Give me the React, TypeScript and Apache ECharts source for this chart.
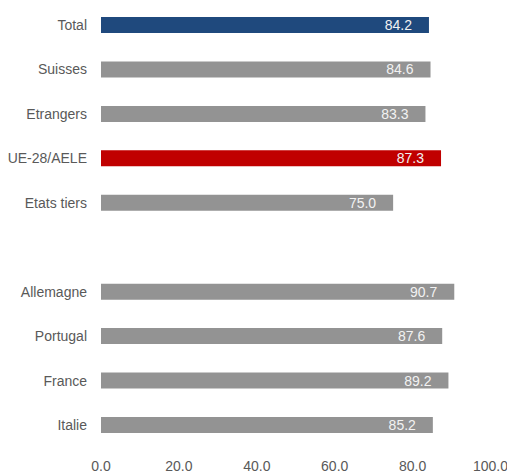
import React, { useEffect, useRef } from "react";
import * as echarts from "echarts";

const categories = [
  "Total",
  "Suisses",
  "Etrangers",
  "UE-28/AELE",
  "Etats tiers",
  "",
  "Allemagne",
  "Portugal",
  "France",
  "Italie",
];
const values: (number | null)[] = [84.2, 84.6, 83.3, 87.3, 75.0, null, 90.7, 87.6, 89.2, 85.2];
const xTicks = [0, 20, 40, 60, 80, 100];

const FONT = "'Liberation Sans', Arial, sans-serif";
const FS = 14;

export default function App() {
  const ref = useRef<HTMLDivElement>(null);
  useEffect(() => {
    if (!ref.current) return;
    const chart = echarts.init(ref.current, undefined, { renderer: "svg" });
    chart.setOption({
      animation: false,
      grid: {
        left: 101,
        right: 16.5,
        top: 2.8,
        bottom: 25.8,
        containLabel: false,
        outerBoundsMode: "none",
      },
      xAxis: {
        type: "value",
        min: xTicks[0],
        max: xTicks[xTicks.length - 1],
        interval: 20,
        axisLine: { show: false },
        axisTick: { show: false },
        splitLine: { show: false },
        axisLabel: {
          color: "#595959",
          fontFamily: FONT,
          fontSize: FS,
          margin: 12,
          formatter: (v: number) => v.toFixed(1),
        },
      },
      yAxis: {
        type: "category",
        data: categories,
        inverse: true,
        axisLine: { show: false },
        axisTick: { show: false },
        splitLine: { show: false },
        axisLabel: {
          color: "#595959",
          fontFamily: FONT,
          fontSize: FS,
          margin: 14,
        },
      },
      series: [
        {
          type: "bar",
          data: values.map((v) => (v === null ? "-" : v)),
          barWidth: 16,
          itemStyle: {
            color: (p: any) =>
              p.name === "Total" ? "#1f497d" : p.name === "UE-28/AELE" ? "#c00000" : "#939393",
          },
          label: {
            show: true,
            position: "insideRight",
            distance: 17,
            color: "#f2f2f2",
            fontFamily: FONT,
            fontSize: FS,
            formatter: (p: any) => (typeof p.value === "number" ? p.value.toFixed(1) : ""),
          },
        },
      ],
    });
    return () => chart.dispose();
  }, []);
  return (
    <div
      ref={ref}
      style={{ position: "fixed", left: 0, top: 0, width: 507, height: 473, background: "#fff" }}
    />
  );
}
